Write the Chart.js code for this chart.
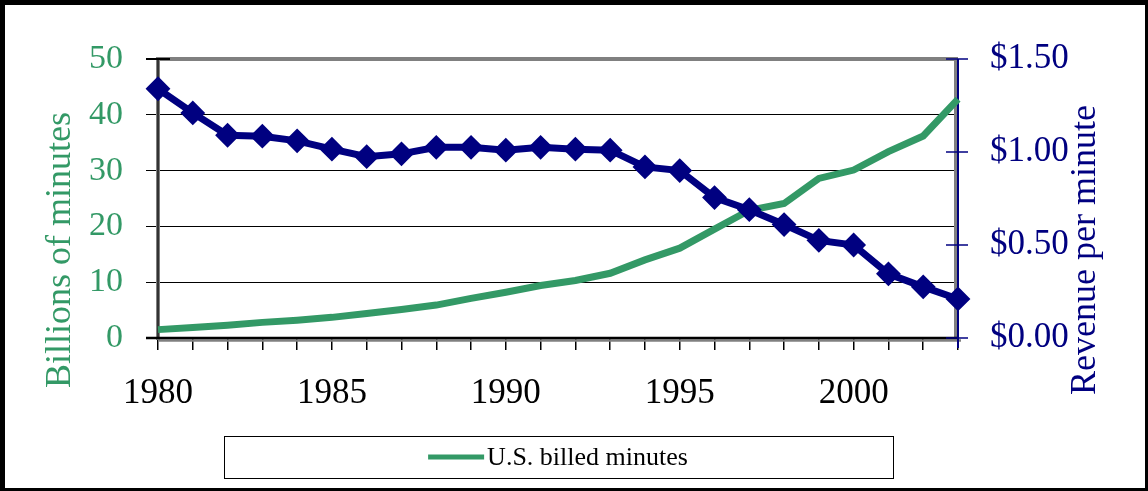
<!DOCTYPE html>
<html><head><meta charset="utf-8">
<script src="https://cdn.jsdelivr.net/npm/chart.js@4.4.0/dist/chart.umd.min.js"></script>
<style>html,body{margin:0;padding:0;background:#fff;}#wrap{width:1148px;height:491px;position:relative;}</style>
</head><body><div id="wrap"><canvas id="c" width="1148" height="491"></canvas></div>
<script>
const years = ['1980','1981','1982','1983','1984','1985','1986','1987','1988','1989','1990','1991','1992','1993','1994','1995','1996','1997','1998','1999','2000','2001','2002','2003'];
const billedMinutes = [1.5,1.9,2.3,2.8,3.2,3.7,4.4,5.1,5.9,7.1,8.2,9.4,10.3,11.6,14.0,16.1,19.5,22.9,24.1,28.6,30.1,33.4,36.2,42.8];
const revenuePerMinute = [1.34,1.21,1.09,1.085,1.06,1.015,0.975,0.99,1.025,1.025,1.01,1.025,1.015,1.01,0.92,0.90,0.755,0.69,0.61,0.525,0.50,0.345,0.275,0.21];
const xTickLabels = ['1980','1985','1990','1995','2000'];
const leftTicks = [0,10,20,30,40,50];
const rightTicks = [0,0.5,1.0,1.5];
const seriesNames = ['U.S. billed minutes','Revenue per minute'];
const leftTitle = 'Billions of minutes';
const rightTitle = 'Revenue per minute';

const GREEN = '#339966', NAVY = '#000080';
const FONT = "'Liberation Serif','Times New Roman',serif";

const framePlugin = {
  id: 'frame',
  beforeDraw(chart) {
    const {ctx, width, height} = chart;
    ctx.save();
    ctx.fillStyle = '#000'; ctx.fillRect(0, 0, width, height);
    ctx.fillStyle = '#fff'; ctx.fillRect(5, 5, width - 8, height - 8);
    ctx.restore();
  },
  beforeDatasetsDraw(chart) {
    const {ctx, chartArea: a, scales} = chart;
    ctx.save();
    ctx.lineCap = 'butt';
    ctx.strokeStyle = '#808080';
    ctx.lineWidth = 4;
    ctx.beginPath(); ctx.moveTo(a.left - 2, a.top); ctx.lineTo(a.right, a.top); ctx.stroke();
    ctx.beginPath(); ctx.moveTo(a.left, a.top); ctx.lineTo(a.left, a.bottom + 2); ctx.stroke();
    ctx.lineWidth = 3;
    ctx.beginPath(); ctx.moveTo(a.right - 2.5, a.top); ctx.lineTo(a.right - 2.5, a.bottom); ctx.stroke();
    ctx.lineWidth = 2.5;
    ctx.beginPath(); ctx.moveTo(a.left, a.bottom + 2.5); ctx.lineTo(a.right + 3, a.bottom + 2.5); ctx.stroke();
    ctx.strokeStyle = '#000';
    ctx.lineWidth = 1.2;
    ctx.beginPath(); ctx.moveTo(a.left, a.top); ctx.lineTo(a.left, a.bottom); ctx.stroke();
    ctx.lineWidth = 2.5;
    ctx.beginPath(); ctx.moveTo(a.left - 12, a.bottom); ctx.lineTo(a.right, a.bottom); ctx.stroke();
    ctx.lineWidth = 2;
    ctx.beginPath(); ctx.moveTo(a.left - 12, a.top); ctx.lineTo(a.left + 12, a.top); ctx.stroke();
    // right value axis
    const y1 = scales.y1;
    ctx.strokeStyle = NAVY;
    ctx.lineWidth = 2;
    ctx.beginPath(); ctx.moveTo(a.right, a.top); ctx.lineTo(a.right, a.bottom + 10); ctx.stroke();
    ctx.lineWidth = 1.5;
    y1.ticks.forEach(t => {
      const py = y1.getPixelForValue(t.value);
      ctx.beginPath(); ctx.moveTo(a.right - 12, py); ctx.lineTo(a.right + 10, py); ctx.stroke();
    });
    ctx.restore();
  },
  afterDraw(chart) {
    const {ctx, chartArea: a} = chart;
    ctx.save();
    // axis titles
    ctx.font = '36px ' + FONT;
    ctx.textAlign = 'center';
    ctx.textBaseline = 'alphabetic';
    ctx.save(); ctx.translate(70, 250); ctx.rotate(-Math.PI / 2);
    ctx.fillStyle = GREEN; ctx.fillText(leftTitle, 0, 0); ctx.restore();
    ctx.save(); ctx.translate(1095, 250); ctx.rotate(-Math.PI / 2);
    ctx.fillStyle = NAVY; ctx.fillText(rightTitle, 0, 0); ctx.restore();
    // legend
    const cx = (a.left + a.right) / 2;
    const boxW = 669, boxH = 42, boxTop = 436;
    ctx.strokeStyle = '#000'; ctx.lineWidth = 1;
    ctx.strokeRect(Math.round(cx - boxW / 2) + 0.5, boxTop + 0.5, boxW, boxH);
    const ds = chart.data.datasets[0];
    ctx.font = '26px ' + FONT;
    const tw = ctx.measureText(ds.label).width;
    const lineW = 56, gap = 3;
    const total = lineW + gap + tw;
    const sx = cx - total / 2;
    const ly = boxTop + boxH / 2;
    ctx.strokeStyle = ds.borderColor; ctx.lineWidth = 5; ctx.lineCap = 'butt';
    ctx.beginPath(); ctx.moveTo(sx, ly); ctx.lineTo(sx + lineW, ly); ctx.stroke();
    ctx.fillStyle = '#000'; ctx.textAlign = 'left'; ctx.textBaseline = 'middle';
    ctx.fillText(ds.label, sx + lineW + gap, ly + 1);
    ctx.restore();
  }
};

new Chart(document.getElementById('c'), {
  type: 'line',
  data: {
    labels: years,
    datasets: [
      {
        label: seriesNames[0], data: billedMinutes, yAxisID: 'y',
        borderColor: GREEN, backgroundColor: GREEN, borderWidth: 7,
        pointRadius: 0, tension: 0, order: 2, clip: false
      },
      {
        label: seriesNames[1], data: revenuePerMinute, yAxisID: 'y1',
        borderColor: NAVY, backgroundColor: NAVY, borderWidth: 7,
        pointStyle: 'rectRot', pointRadius: 11, pointBorderWidth: 2,
        pointBackgroundColor: NAVY, pointBorderColor: NAVY,
        tension: 0, order: 1, clip: false
      }
    ]
  },
  options: {
    responsive: false,
    animation: false,
    layout: { padding: { top: 59, left: 0, right: 0, bottom: 0 } },
    plugins: { legend: { display: false }, tooltip: { enabled: false } },
    scales: {
      x: {
        type: 'category', offset: false,
        afterFit(s) { s.height = 153; },
        grid: { drawOnChartArea: false, drawTicks: true, tickLength: 12, tickColor: '#000', lineWidth: 1.5 },
        border: { display: false },
        ticks: {
          autoSkip: false, maxRotation: 0, minRotation: 0, padding: 23,
          color: '#000', font: { family: FONT, size: 35 },
          callback(v) { const l = this.getLabelForValue(v); return xTickLabels.includes(l) ? l : ''; }
        }
      },
      y: {
        position: 'left', min: leftTicks[0], max: leftTicks[leftTicks.length - 1],
        afterFit(s) { s.width = 158; },
        afterBuildTicks(s) { s.ticks = leftTicks.map(v => ({ value: v })); },
        grid: {
          color: c => (c.tick && c.tick.value === 50) ? 'rgba(0,0,0,0)' : '#000',
          tickColor: '#000', lineWidth: 1, tickLength: 12, drawTicks: true
        },
        border: { display: false },
        ticks: { padding: 23, color: GREEN, font: { family: FONT, size: 34 } }
      },
      y1: {
        position: 'right', min: rightTicks[0], max: rightTicks[rightTicks.length - 1],
        afterFit(s) { s.width = 190; },
        afterBuildTicks(s) { s.ticks = rightTicks.map(v => ({ value: v })); },
        grid: { drawOnChartArea: false, drawTicks: true, tickLength: 10, color: 'rgba(0,0,0,0)', tickColor: 'rgba(0,0,0,0)' },
        border: { display: false },
        ticks: {
          padding: 22, color: NAVY, font: { family: FONT, size: 35 },
          callback: v => '$' + Number(v).toFixed(2)
        }
      }
    }
  },
  plugins: [framePlugin]
});
</script>
</body></html>
